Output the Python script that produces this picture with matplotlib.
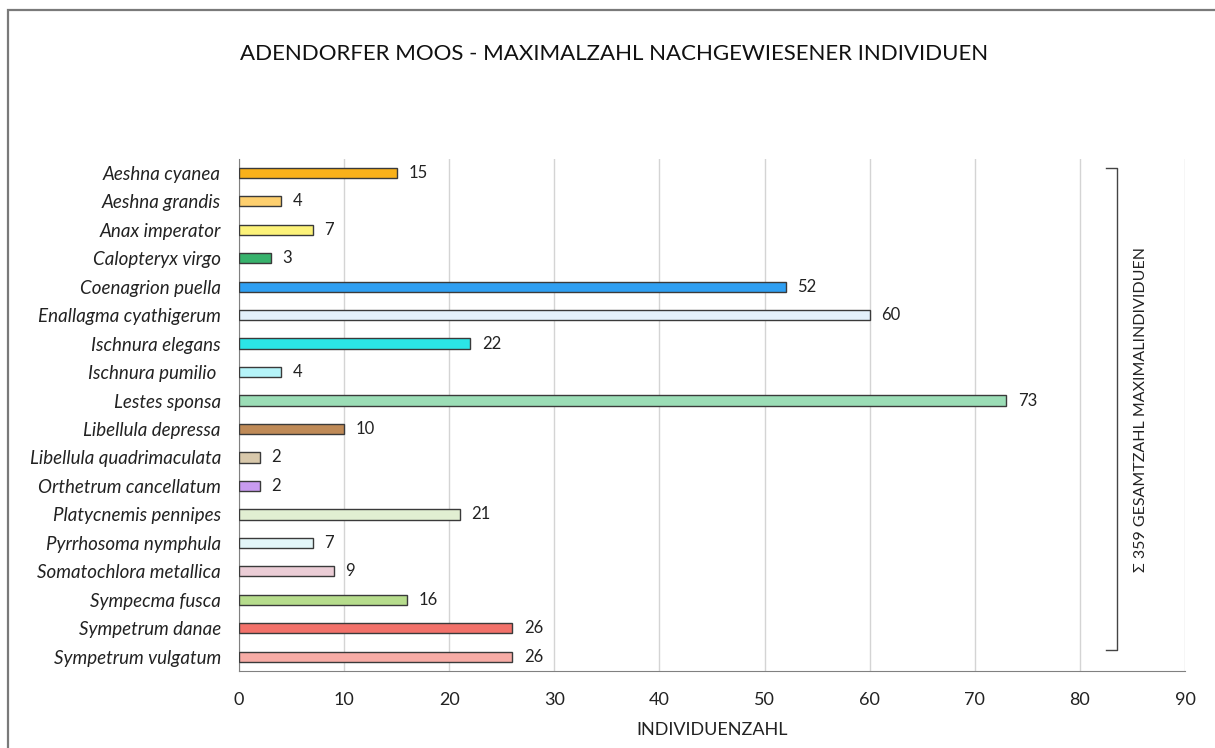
import matplotlib.pyplot as plt
from matplotlib.patches import Rectangle

# Maximalzahl nachgewiesener Individuen je Art
species = [
    "Aeshna cyanea", "Aeshna grandis", "Anax imperator", "Calopteryx virgo",
    "Coenagrion puella", "Enallagma cyathigerum", "Ischnura elegans",
    "Ischnura pumilio ", "Lestes sponsa", "Libellula depressa",
    "Libellula quadrimaculata", "Orthetrum cancellatum", "Platycnemis pennipes",
    "Pyrrhosoma nymphula", "Somatochlora metallica", "Sympecma fusca",
    "Sympetrum danae", "Sympetrum vulgatum",
]
counts = [15, 4, 7, 3, 52, 60, 22, 4, 73, 10, 2, 2, 21, 7, 9, 16, 26, 26]
colors = [
    "#F9B11A", "#FDCF6E", "#FCF279", "#37B26C", "#2F9FF2", "#E4F1FB",
    "#2BE5E6", "#B5F4F9", "#9BDDB6", "#BF8A57", "#D8C8AB", "#C89BF0",
    "#E1EFD2", "#E3F6F8", "#EBCDD6", "#B6DC8C", "#F2716A", "#F7ACA6",
]
xticks = [0, 10, 20, 30, 40, 50, 60, 70, 80, 90]

plt.rcParams['font.family'] = ['Lato', 'DejaVu Sans']

fig = plt.figure(figsize=(12.15, 7.48), dpi=100)
ax = fig.add_axes([0.1967, 0.1029, 0.7786, 0.6852])

ypos = list(range(len(species)))
ax.barh(ypos, counts, height=0.36, color=colors, edgecolor="#3a3a3a",
        linewidth=1.0, zorder=3)

for y, v in zip(ypos, counts):
    ax.text(v + 1.1, y, str(v), va="center", ha="left", fontsize=12,
            color="#222222")

ax.set_ylim(len(species) - 0.5, -0.5)
ax.set_xlim(0, 90)
ax.set_yticks(ypos)
ax.set_yticklabels(species, fontsize=13.5, style="italic", color="#222222")
ax.set_xticks(xticks)
ax.set_xticklabels([str(t) for t in xticks], fontsize=13, color="#222222")
ax.tick_params(axis="y", length=0, pad=13)
ax.tick_params(axis="x", length=0, pad=15)

ax.grid(axis="x", color="#d4d4d4", linewidth=1.0, zorder=0)
ax.set_axisbelow(True)
for side in ["top", "right"]:
    ax.spines[side].set_visible(False)
ax.spines["left"].set_color("#808080")
ax.spines["bottom"].set_color("#808080")

ax.set_xlabel("INDIVIDUENZAHL", fontsize=13, labelpad=10, color="#222222")

# Klammer mit Gesamtsumme rechts neben den Balken
total = sum(counts)
bx = 83.5
ax.plot([bx - 1.0, bx, bx, bx - 1.0], [-0.18, -0.18, 16.75, 16.75],
        color="#444444", linewidth=1.0, clip_on=False, zorder=4)
ax.text(bx + 2.3, 8.3, f"Σ {total} GESAMTZAHL MAXIMALINDIVIDUEN",
        rotation=90, va="center", ha="center", fontsize=11.5, color="#222222")

fig.text(0.505, 0.928, "ADENDORFER MOOS - MAXIMALZAHL NACHGEWIESENER INDIVIDUEN",
         ha="center", va="center", fontsize=16, color="#111111")

# Rahmen um die Grafik
fig.patches.append(Rectangle((8 / 1215, -0.1), 1.2, 0.1 + (748 - 10) / 748,
                             transform=fig.transFigure, fill=False,
                             edgecolor="#7a7a7a", linewidth=1.6))

fig.savefig("out.png", dpi=100)
